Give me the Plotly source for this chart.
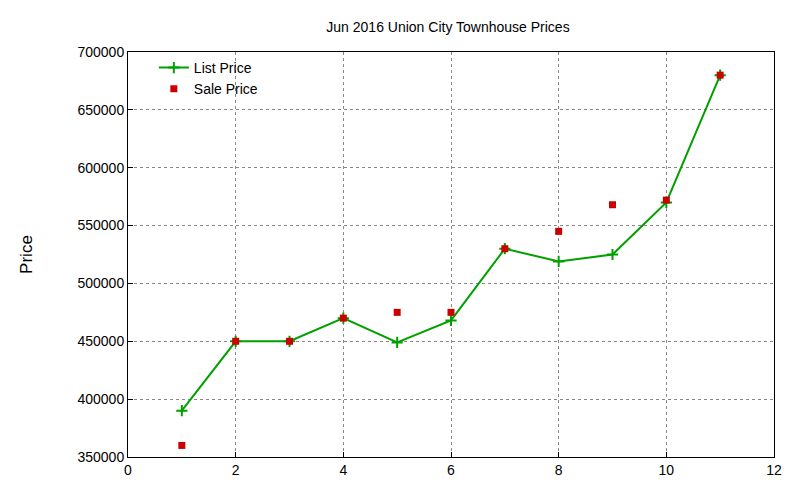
import plotly.graph_objects as go

months = [1, 2, 3, 4, 5, 6, 7, 8, 9, 10, 11]
list_price = [390000, 450000, 450000, 470000, 449000, 468000, 530000, 519000, 525000, 570000, 680000]
sale_price = [360000, 450000, 450000, 470000, 475000, 475000, 530000, 545000, 568000, 572000, 680000]

fig = go.Figure()
fig.add_trace(go.Scatter(x=months, y=list_price, name="List Price", mode="lines+markers",
                         line=dict(color="#00a000", width=2),
                         marker=dict(symbol="cross-thin", size=8, line=dict(color="#00a000", width=2))))
fig.add_trace(go.Scatter(x=months, y=sale_price, name="Sale Price", mode="markers",
                         marker=dict(symbol="square", size=7, color="#cc0000")))

axis = dict(showline=True, mirror=True, linecolor="black", linewidth=1,
            gridcolor="#888888", griddash="dot", gridwidth=1, zeroline=False,
            ticks="inside", tickcolor="black", ticklen=5, automargin=False)
fig.update_xaxes(range=[0, 12], dtick=2, **axis)
fig.update_yaxes(range=[350000, 700000], dtick=50000, tickformat="d",
                 title=dict(text="Price", standoff=40), **axis)

fig.update_layout(
    width=800, height=480,
    title=dict(text="Jun 2016 Union City Townhouse Prices", x=0.55, y=0.96, xanchor="center",
               yanchor="middle", font=dict(size=14)),
    font=dict(family="Liberation Sans", size=14, color="black"),
    plot_bgcolor="white", paper_bgcolor="white",
    margin=dict(l=120, r=34, t=44, b=31, autoexpand=False),
    legend=dict(x=0.04, y=1.0, xanchor="left", yanchor="top", bgcolor="rgba(0,0,0,0)",
                tracegroupgap=0),
)
fig.write_html("out.html")
